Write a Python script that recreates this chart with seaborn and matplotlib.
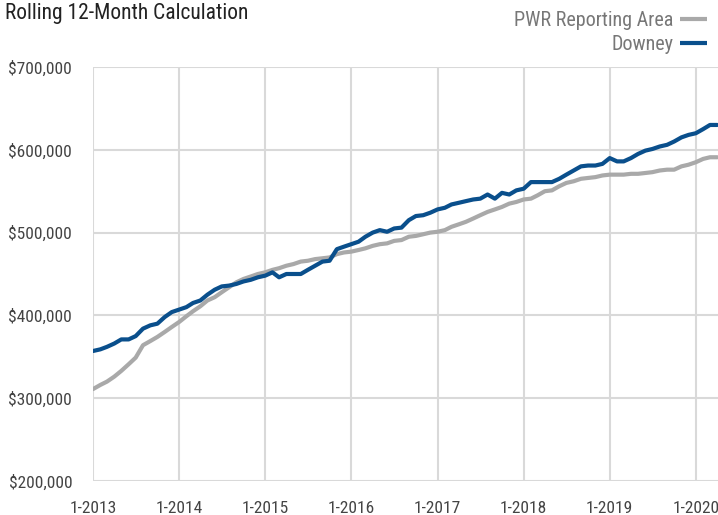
import matplotlib.pyplot as plt
import matplotlib.dates as mdates
import matplotlib.ticker as mticker
from matplotlib import font_manager
import pandas as pd
import seaborn as sns

# monthly rolling 12-month values, 1-2013 .. 4-2020
months = pd.date_range("2013-01-01", "2020-04-01", freq="MS")
downey = [
    357, 359, 362, 366, 371, 371, 375, 384, 388, 390, 398, 404,
    407, 410, 415, 418, 425, 431, 435, 436, 438, 441, 443, 446,
    448, 452, 446, 450, 450, 450, 455, 460, 465, 466, 480, 483,
    486, 489, 495, 500, 503, 501, 505, 506, 515, 520, 521, 524,
    528, 530, 534, 536, 538, 540, 541, 546, 541, 548, 546, 551,
    553, 561, 561, 561, 561, 565, 570, 575, 580, 581, 581, 583,
    590, 586, 586, 590, 595, 599, 601, 604, 606, 610, 615, 618,
    620, 625, 630, 630,
]
pwr = [
    311, 316, 320, 326, 333, 341, 349, 364, 369, 374, 380, 386,
    392, 399, 405, 411, 418, 422, 428, 434, 440, 444, 447, 450,
    452, 455, 457, 460, 462, 465, 466, 468, 469, 470, 474, 476,
    477, 479, 481, 484, 486, 487, 490, 491, 495, 496, 498, 500,
    501, 503, 507, 510, 513, 517, 521, 525, 528, 531, 535, 537,
    540, 541, 545, 550, 551, 556, 560, 562, 565, 566, 567, 569,
    570, 570, 570, 571, 571, 572, 573, 575, 576, 576, 580, 582,
    585, 589, 591, 591,
]
series_names = ["PWR Reporting Area", "Downey"]
colors = {"PWR Reporting Area": "#a9a9a9", "Downey": "#0a4f8c"}
y_ticks = [200000, 300000, 400000, 500000, 600000, 700000]
tick_years = list(range(2013, 2021))

df = pd.concat([
    pd.DataFrame({"month": months, "value": [v * 1000 for v in pwr], "area": series_names[0]}),
    pd.DataFrame({"month": months, "value": [v * 1000 for v in downey], "area": series_names[1]}),
])

sns.set_theme(style="white")
installed = {f.name for f in font_manager.fontManager.ttflist}
narrow = [n for n in ["Roboto Condensed", "Liberation Sans Narrow", "Open Sans Condensed"] if n in installed]
plt.rcParams["font.family"] = narrow + ["Roboto", "DejaVu Sans"]
if not narrow:
    plt.rcParams["font.stretch"] = "condensed"

fig, ax = plt.subplots(figsize=(7.18, 5.15), dpi=100)
fig.subplots_adjust(left=93 / 718, right=1.0, bottom=1 - 481 / 515, top=1 - 67 / 515)

sns.lineplot(data=df, x="month", y="value", hue="area", hue_order=series_names,
             palette=colors, linewidth=3, ax=ax, legend=False)

grid_c = "#d9d9d9"
ax.set_xlim(pd.Timestamp("2013-01-01"), pd.Timestamp("2020-04-04"))
ax.set_ylim(200000, 700000)
ax.set_xticks([pd.Timestamp(f"{y}-01-01") for y in tick_years])
ax.xaxis.set_major_formatter(mdates.DateFormatter("1-%Y"))
ax.set_yticks(y_ticks)
ax.yaxis.set_major_formatter(mticker.FuncFormatter(lambda v, _: f"${v:,.0f}"))
ax.grid(True, color=grid_c, linewidth=1.5)
for s in ax.spines.values():
    s.set_visible(False)
ax.tick_params(axis="x", length=6.5, width=1.5, color=grid_c, pad=8, labelsize=12.5, labelcolor="#444444")
ax.tick_params(axis="y", length=4, width=1.5, color=grid_c, pad=11, labelsize=12.5, labelcolor="#444444")
ax.set_xlabel("")
ax.set_ylabel("")

fig.text(0.007, 1 - 13 / 515, "Rolling 12-Month Calculation", fontsize=15.5, color="#222222", va="center")

handles = [plt.Line2D([], [], color=colors[n], linewidth=3, solid_capstyle="butt") for n in series_names]
fig.legend(handles, series_names, loc="upper right", bbox_to_anchor=(1.0, 1.0), frameon=False,
           markerfirst=False, fontsize=14.5, labelcolor="#777777", handlelength=1.35,
           handletextpad=0.3, labelspacing=0.25, borderaxespad=0.15)

fig.savefig("out.png", dpi=100)
plt.close(fig)
